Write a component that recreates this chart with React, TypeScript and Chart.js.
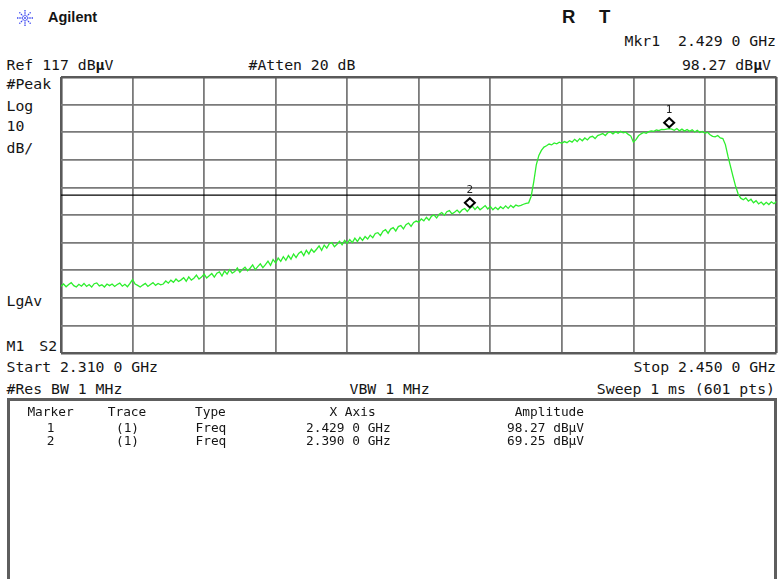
import React, { useEffect, useRef } from "react";
import { Chart, registerables } from "chart.js";

Chart.register(...registerables);

// ---- Sweep definition ----
const sweepStartMHz = 2310;
const sweepStopMHz = 2450;
const sweepStepMHz = 0.5;
const displayLineLevel = 74.2;

// Grid (10 dB/div from Ref 117 dBµV, 14 MHz/div)
const xGridFreqsMHz = [2310, 2324, 2338, 2352, 2366, 2380, 2394, 2408, 2422, 2436, 2450];
const yGridLevels = [17, 27, 37, 47, 57, 67, 77, 87, 97, 107, 117];

// Trace amplitude (dBµV), one value every 0.5 MHz from 2310 to 2450 MHz
const traceLevels = [
  41.2, 42.0, 41.0, 41.8, 42.5, 41.4, 40.9, 41.9, 41.2, 42.2, 41.1, 41.8, 40.9, 42.1, 42.4, 41.3, 41.7, 40.9, 42.0, 41.4,
  42.0, 41.1, 41.8, 42.3, 41.2, 41.9, 41.0, 42.2, 43.6, 42.0, 41.5, 40.9, 41.6, 42.2, 41.1, 41.8, 42.5, 41.5, 42.2, 41.7,
  42.0, 43.1, 42.3, 43.4, 42.6, 43.8, 42.9, 43.5, 44.3, 43.0, 44.6, 43.4, 44.1, 45.2, 43.8, 44.5, 45.6, 44.2, 45.0, 45.8,
  44.5, 45.9, 46.4, 44.9, 46.7, 45.6, 47.2, 45.9, 46.5, 47.8, 46.2, 47.3, 48.1, 46.8, 47.7, 48.9, 47.2, 48.3, 49.3, 47.9,
  49.0, 50.3, 48.8, 50.9, 49.6, 51.4, 50.2, 51.9, 50.6, 52.3, 51.0, 52.9, 51.6, 53.1, 53.8, 52.3, 54.2, 52.9, 54.6, 53.5,
  54.6, 55.8, 54.2, 56.1, 55.0, 56.6, 57.0, 55.5, 56.4, 57.5, 56.2, 57.8, 56.7, 58.1, 57.0, 58.6, 57.4, 58.9, 57.8, 59.2,
  58.3, 59.7, 58.8, 60.3, 60.6, 59.5, 61.1, 61.7, 60.4, 61.9, 62.4, 61.2, 62.8, 63.2, 62.0, 63.5, 64.1, 62.9, 64.3, 64.8,
  64.4, 65.6, 64.9, 66.2, 65.1, 66.6, 67.0, 65.9, 67.3, 67.9, 66.9, 68.2, 68.6, 67.4, 68.0, 68.8, 67.8, 68.9, 69.3, 68.3,
  69.4, 70.2, 69.0, 70.0, 68.9, 69.6, 70.4, 69.2, 70.1, 68.9, 69.8, 69.0, 70.0, 69.3, 70.3, 69.4, 70.5, 69.7, 70.6, 70.2,
  70.5, 70.9, 71.2, 71.4, 73.8, 79.0, 85.2, 88.6, 90.4, 91.6, 92.1, 92.7, 92.4, 93.1, 92.8, 93.4, 93.0, 93.6, 93.2, 93.9,
  93.4, 94.4, 93.6, 94.7, 93.9, 94.9, 94.2, 95.2, 95.5, 94.7, 95.8, 96.1, 96.5, 95.8, 96.8, 97.1, 96.4, 97.2, 96.6, 97.3,
  96.8, 97.0, 96.2, 95.6, 93.4, 94.3, 95.7, 96.4, 96.9, 96.6, 97.2, 97.5, 97.3, 97.8, 97.6, 98.0, 97.9, 98.1, 98.27, 98.1,
  97.7, 98.3, 97.5, 98.1, 97.4, 98.0, 97.3, 97.9, 97.1, 97.7, 96.9, 97.3, 96.6, 97.0, 96.1, 95.5, 95.3, 95.8, 94.9, 94.7,
  92.5, 88.3, 84.6, 80.9, 77.4, 74.6, 73.1, 72.5, 73.2, 72.0, 72.7, 71.4, 72.2, 71.0, 71.7, 70.7, 71.6, 70.8, 71.8, 71.1, 71.9,
];

// Markers
const markerNumbers = ["1", "2"];
const markerFreqsMHz = [2429, 2390];
const markerAmps = [98.27, 69.25];
const markerTraceText = ["(1)", "(1)"];
const markerTypeText = ["Freq", "Freq"];
const markerFreqText = ["2.429 0 GHz", "2.390 0 GHz"];
const markerAmpText = ["98.27 dBµV", "69.25 dBµV"];

const MONO = '"DejaVu Sans Mono", "Liberation Mono", monospace';
const SANS = '"Liberation Sans", Arial, sans-serif';

const markerPlugin = {
  id: "analyzerMarkers",
  afterDatasetsDraw(chart: any) {
    const { ctx, scales } = chart;
    ctx.save();
    markerFreqsMHz.forEach((f, i) => {
      const px = scales.x.getPixelForValue(f);
      const py = scales.y.getPixelForValue(markerAmps[i]);
      const cy = py - 6;
      ctx.beginPath();
      ctx.moveTo(px, cy - 4.6);
      ctx.lineTo(px + 5, cy);
      ctx.lineTo(px, cy + 4.6);
      ctx.lineTo(px - 5, cy);
      ctx.closePath();
      ctx.lineWidth = 2;
      ctx.strokeStyle = "#000";
      ctx.stroke();
      ctx.font = `11px ${MONO}`;
      ctx.textAlign = "center";
      ctx.textBaseline = "alphabetic";
      ctx.fillStyle = "#222";
      ctx.fillText(markerNumbers[i], px, cy - 9.5);
    });
    ctx.restore();
  },
};

function SpectrumChart() {
  const ref = useRef<HTMLCanvasElement | null>(null);
  useEffect(() => {
    if (!ref.current) return;
    const edgeW = (c: any) => (c.index === 0 || c.index === 10 ? 2.6 : 1.8);
    const edgeC = (c: any) => (c.index === 0 || c.index === 10 ? "#5a5a5a" : "#7a7a7a");
    const chart = new Chart(ref.current, {
      type: "line",
      data: {
        datasets: [
          {
            label: "Trace 1",
            data: traceLevels.map((v, i) => ({ x: sweepStartMHz + i * sweepStepMHz, y: v })),
            borderColor: "rgb(45, 238, 45)",
            borderWidth: 1.3,
            pointRadius: 0,
            tension: 0,
            fill: false,
          },
          {
            label: "Display line",
            data: [
              { x: sweepStartMHz, y: displayLineLevel },
              { x: sweepStopMHz, y: displayLineLevel },
            ],
            borderColor: "#000",
            borderWidth: 1.4,
            pointRadius: 0,
            fill: false,
          },
        ],
      },
      options: {
        animation: false,
        responsive: false,
        devicePixelRatio: 1,
        events: [],
        layout: { padding: { left: 61, top: 77, right: 1.5, bottom: 226 }, autoPadding: false },
        plugins: { legend: { display: false }, tooltip: { enabled: false } },
        scales: {
          x: {
            type: "linear",
            min: sweepStartMHz,
            max: sweepStopMHz,
            afterBuildTicks: (s: any) => {
              s.ticks = xGridFreqsMHz.map((v) => ({ value: v }));
            },
            ticks: { display: false },
            grid: { drawTicks: false, lineWidth: edgeW, color: edgeC },
            border: { display: false },
          },
          y: {
            type: "linear",
            min: yGridLevels[0],
            max: yGridLevels[yGridLevels.length - 1],
            afterBuildTicks: (s: any) => {
              s.ticks = yGridLevels.map((v) => ({ value: v }));
            },
            ticks: { display: false },
            grid: { drawTicks: false, lineWidth: edgeW, color: edgeC },
            border: { display: false },
          },
        },
      } as any,
      plugins: [markerPlugin],
    });
    return () => chart.destroy();
  }, []);
  return (
    <canvas
      ref={ref}
      width={778}
      height={579}
      style={{ position: "absolute", left: 0, top: 0, width: 778, height: 579 }}
    />
  );
}

type TProps = {
  children: React.ReactNode;
  top: number;
  left?: number;
  right?: number;
  center?: number;
  size?: number;
  font?: string;
  bold?: boolean;
  extra?: React.CSSProperties;
};

function T({ children, top, left, right, center, size = 14.8, font = MONO, bold, extra }: TProps) {
  const style: React.CSSProperties = {
    position: "absolute",
    top,
    fontFamily: font,
    fontSize: size,
    lineHeight: `${size}px`,
    whiteSpace: "pre",
    color: "#151515",
    fontWeight: bold ? "bold" : "normal",
    ...extra,
  };
  if (center !== undefined) {
    style.left = center - 80;
    style.width = 160;
    style.textAlign = "center";
  } else if (right !== undefined) {
    style.right = right;
    style.textAlign = "right";
  } else {
    style.left = left;
  }
  return <div style={style}>{children}</div>;
}

function Logo() {
  const rays = [0, 45, 90, 135, 180, 225, 270, 315];
  return (
    <svg width={18} height={18} style={{ position: "absolute", left: 16, top: 9 }} viewBox="0 0 18 18">
      {rays.map((a) => {
        const r = (a * Math.PI) / 180;
        return (
          <line
            key={a}
            x1={9 + Math.cos(r) * 2}
            y1={9 + Math.sin(r) * 2}
            x2={9 + Math.cos(r) * 8}
            y2={9 + Math.sin(r) * 8}
            stroke="#3a46f0"
            strokeWidth={1.3}
            strokeDasharray="1.4 0.9"
          />
        );
      })}
      <circle cx={9} cy={9} r={1.2} fill="#6f78f5" />
    </svg>
  );
}

const mu = <b>µ</b>;

export default function App() {
  const TS = 12.8; // table font size
  const rowTops = [421.5, 435];
  return (
    <div
      style={{
        position: "fixed",
        left: 0,
        top: 0,
        width: 778,
        height: 579,
        overflow: "hidden",
        background: "#fff",
      }}
    >
      <Logo />
      <T top={9.5} left={48} size={14.5} font={SANS} bold>
        Agilent
      </T>
      <T top={7.6} left={562} size={18.5} font={SANS} bold>
        R
      </T>
      <T top={7.6} left={599} size={18.5} font={SANS} bold>
        T
      </T>
      <T top={33.8} right={2}>
        {"Mkr1  2.429 0 GHz"}
      </T>
      <T top={58} left={6.5}>
        Ref 117 dB{mu}V
      </T>
      <T top={58} left={248.5}>
        #Atten 20 dB
      </T>
      <T top={58} right={7}>
        98.27 dB{mu}V
      </T>
      <T top={76.8} left={6.5}>
        #Peak
      </T>
      <T top={98.5} left={6.5}>
        Log
      </T>
      <T top={119.2} left={6.5}>
        10
      </T>
      <T top={141} left={6.5}>
        dB/
      </T>
      <T top={294} left={6.5}>
        LgAv
      </T>
      <T top={339} left={6.5} extra={{ wordSpacing: "6px" }}>
        M1 S2
      </T>
      <T top={360} left={6.5}>
        Start 2.310 0 GHz
      </T>
      <T top={360} right={2}>
        Stop 2.450 0 GHz
      </T>
      <T top={382} left={6.5}>
        #Res BW 1 MHz
      </T>
      <T top={382} left={349.5}>
        VBW 1 MHz
      </T>
      <T top={382} right={3}>
        Sweep 1 ms (601 pts)
      </T>

      <SpectrumChart />

      <div
        style={{
          position: "absolute",
          left: 7,
          top: 398,
          width: 764,
          height: 300,
          border: "3px solid #5e5e5e",
          background: "#fff",
        }}
      />
      <T top={405.9} center={50.5} size={TS}>
        Marker
      </T>
      <T top={405.9} center={127} size={TS}>
        Trace
      </T>
      <T top={405.9} left={195} size={TS}>
        Type
      </T>
      <T top={405.9} center={352.5} size={TS}>
        X Axis
      </T>
      <T top={405.9} right={778 - 584} size={TS}>
        Amplitude
      </T>
      {markerNumbers.map((m, i) => (
        <React.Fragment key={m}>
          <T top={rowTops[i]} center={50.7} size={TS}>
            {m}
          </T>
          <T top={rowTops[i]} center={127.5} size={TS}>
            {markerTraceText[i]}
          </T>
          <T top={rowTops[i]} left={195.5} size={TS}>
            {markerTypeText[i]}
          </T>
          <T top={rowTops[i]} left={306} size={TS}>
            {markerFreqText[i]}
          </T>
          <T top={rowTops[i]} right={778 - 584} size={TS}>
            {markerAmpText[i]}
          </T>
        </React.Fragment>
      ))}
    </div>
  );
}
